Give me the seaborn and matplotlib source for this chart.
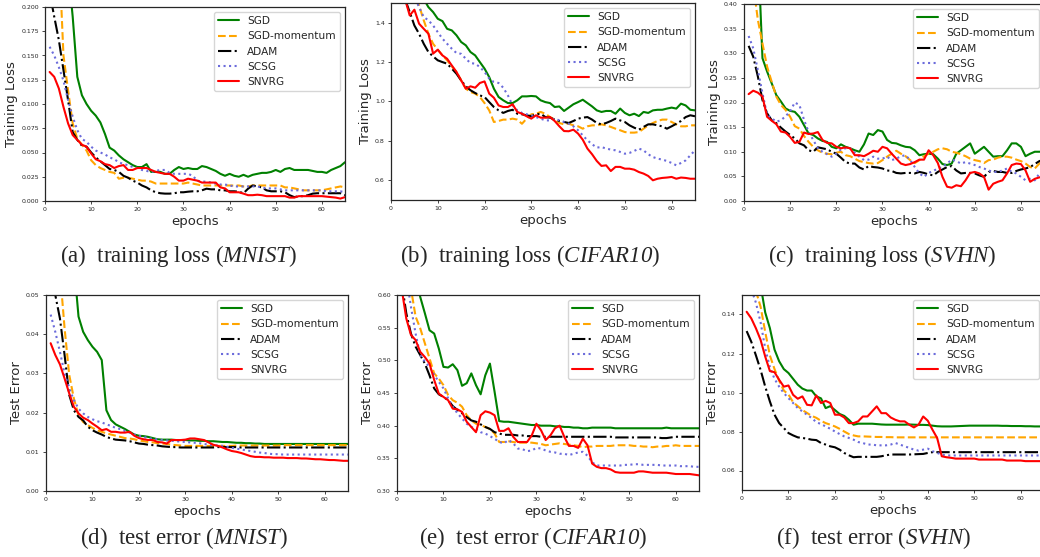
import numpy as np
import matplotlib
matplotlib.use("Agg")
import matplotlib.pyplot as plt
from matplotlib.ticker import MultipleLocator
import seaborn as sns

epochs = np.arange(1, 66)
methods = ["SGD", "SGD-momentum", "ADAM", "SCSG", "SNVRG"]

# (a) training loss MNIST
mnist_loss_sgd = [0.60, 0.45, 0.36, 0.29, 0.24, 0.19, 0.128, 0.109, 0.100, 0.093,
                  0.088, 0.081, 0.069, 0.055, 0.052, 0.047, 0.043, 0.040, 0.037, 0.035,
                  0.035, 0.038, 0.030, 0.030, 0.030, 0.028, 0.028, 0.032, 0.035, 0.033,
                  0.034, 0.033, 0.033, 0.036, 0.035, 0.033, 0.031, 0.028, 0.026, 0.028,
                  0.026, 0.025, 0.027, 0.025, 0.027, 0.028, 0.029, 0.029, 0.030, 0.032,
                  0.030, 0.033, 0.034, 0.032, 0.032, 0.032, 0.032, 0.031, 0.030, 0.030,
                  0.029, 0.032, 0.034, 0.036, 0.040]
mnist_loss_mom = [0.45, 0.33, 0.26, 0.15, 0.114, 0.080, 0.064, 0.058, 0.052, 0.042,
                  0.037, 0.034, 0.032, 0.030, 0.029, 0.023, 0.024, 0.024, 0.023, 0.022,
                  0.021, 0.021, 0.020, 0.018, 0.018, 0.018, 0.018, 0.018, 0.018, 0.018,
                  0.019, 0.018, 0.017, 0.016, 0.016, 0.016, 0.016, 0.016, 0.016, 0.016,
                  0.016, 0.016, 0.015, 0.015, 0.016, 0.016, 0.016, 0.016, 0.016, 0.016,
                  0.016, 0.014, 0.014, 0.013, 0.012, 0.011, 0.011, 0.011, 0.011, 0.011,
                  0.012, 0.013, 0.014, 0.015, 0.014]
mnist_loss_adam = [0.215, 0.19, 0.166, 0.135, 0.104, 0.071, 0.063, 0.057, 0.056, 0.050,
                   0.045, 0.041, 0.037, 0.033, 0.032, 0.030, 0.026, 0.024, 0.021, 0.019,
                   0.016, 0.014, 0.011, 0.009, 0.008, 0.0076, 0.0076, 0.008, 0.009, 0.009,
                   0.0096, 0.010, 0.010, 0.011, 0.0127, 0.012, 0.012, 0.011, 0.011, 0.010,
                   0.010, 0.0096, 0.008, 0.0127, 0.016, 0.015, 0.014, 0.011, 0.010, 0.010,
                   0.010, 0.009, 0.006, 0.004, 0.005, 0.005, 0.006, 0.0076, 0.008, 0.008,
                   0.008, 0.008, 0.008, 0.008, 0.006]
mnist_loss_scsg = [0.159, 0.150, 0.138, 0.124, 0.104, 0.087, 0.073, 0.064, 0.061, 0.056,
                   0.052, 0.050, 0.048, 0.045, 0.043, 0.040, 0.038, 0.037, 0.035, 0.034,
                   0.032, 0.031, 0.030, 0.031, 0.032, 0.032, 0.029, 0.028, 0.028, 0.028,
                   0.028, 0.026, 0.021, 0.020, 0.020, 0.019, 0.018, 0.017, 0.017, 0.016,
                   0.015, 0.015, 0.015, 0.015, 0.015, 0.015, 0.014, 0.013, 0.013, 0.013,
                   0.012, 0.011, 0.011, 0.011, 0.011, 0.011, 0.011, 0.011, 0.011, 0.011,
                   0.010, 0.010, 0.010, 0.010, 0.009]
mnist_loss_snvrg = [0.133, 0.128, 0.116, 0.097, 0.080, 0.068, 0.063, 0.058, 0.056, 0.049,
                    0.043, 0.041, 0.038, 0.037, 0.034, 0.036, 0.037, 0.032, 0.032, 0.034,
                    0.034, 0.034, 0.032, 0.030, 0.029, 0.028, 0.028, 0.025, 0.021, 0.021,
                    0.023, 0.022, 0.021, 0.019, 0.019, 0.019, 0.019, 0.014, 0.013, 0.009,
                    0.009, 0.009, 0.0076, 0.006, 0.006, 0.0065, 0.006, 0.005, 0.005, 0.005,
                    0.005, 0.005, 0.0035, 0.0035, 0.005, 0.005, 0.005, 0.005, 0.005, 0.005,
                    0.0045, 0.004, 0.0035, 0.0025, 0.004]

# (b) training loss CIFAR10
cifar_loss_sgd = [2.2, 2.0, 1.85, 1.75, 1.65, 1.58, 1.52, 1.479, 1.454, 1.42,
                  1.408, 1.369, 1.361, 1.336, 1.302, 1.285, 1.251, 1.234, 1.20, 1.167,
                  1.124, 1.065, 1.023, 1.006, 0.992, 0.992, 1.006, 1.026, 1.026, 1.028,
                  1.026, 1.006, 0.997, 0.992, 0.972, 0.975, 0.952, 0.969, 0.986, 0.997,
                  1.009, 0.992, 0.975, 0.955, 0.947, 0.952, 0.952, 0.938, 0.964, 0.942,
                  0.930, 0.938, 0.926, 0.947, 0.942, 0.955, 0.958, 0.958, 0.964, 0.969,
                  0.964, 0.989, 0.980, 0.958, 0.955]
cifar_loss_mom = [2.0, 1.85, 1.7, 1.6, 1.53, 1.488, 1.412, 1.344, 1.293, 1.263,
                  1.234, 1.209, 1.178, 1.15, 1.107, 1.065, 1.048, 1.04, 1.023, 0.992,
                  0.955, 0.896, 0.901, 0.908, 0.908, 0.913, 0.908, 0.887, 0.913, 0.935,
                  0.938, 0.947, 0.938, 0.921, 0.908, 0.891, 0.884, 0.887, 0.879, 0.874,
                  0.862, 0.874, 0.879, 0.879, 0.884, 0.879, 0.871, 0.862, 0.854, 0.845,
                  0.842, 0.842, 0.845, 0.862, 0.879, 0.891, 0.901, 0.908, 0.908, 0.896,
                  0.884, 0.874, 0.874, 0.879, 0.879]
cifar_loss_adam = [1.8, 1.65, 1.52, 1.454, 1.386, 1.344, 1.293, 1.251, 1.229, 1.209,
                   1.20, 1.192, 1.167, 1.141, 1.107, 1.077, 1.057, 1.043, 1.031, 1.023,
                   0.997, 0.972, 0.955, 0.942, 0.952, 0.958, 0.938, 0.935, 0.930, 0.925,
                   0.935, 0.938, 0.921, 0.918, 0.908, 0.901, 0.896, 0.891, 0.901, 0.913,
                   0.918, 0.921, 0.908, 0.891, 0.884, 0.891, 0.901, 0.913, 0.904, 0.896,
                   0.879, 0.867, 0.857, 0.871, 0.884, 0.884, 0.879, 0.874, 0.862, 0.874,
                   0.887, 0.901, 0.921, 0.930, 0.925]
cifar_loss_scsg = [2.1, 1.9, 1.75, 1.62, 1.53, 1.479, 1.429, 1.412, 1.386, 1.352,
                   1.319, 1.293, 1.268, 1.246, 1.242, 1.217, 1.195, 1.192, 1.175, 1.15,
                   1.116, 1.099, 1.094, 1.07, 1.031, 0.980, 0.955, 0.942, 0.935, 0.930,
                   0.921, 0.913, 0.904, 0.904, 0.913, 0.904, 0.896, 0.887, 0.874, 0.854,
                   0.828, 0.803, 0.783, 0.766, 0.769, 0.761, 0.756, 0.752, 0.744, 0.735,
                   0.739, 0.749, 0.761, 0.752, 0.732, 0.718, 0.710, 0.705, 0.698, 0.688,
                   0.676, 0.688, 0.701, 0.727, 0.752]
cifar_loss_snvrg = [1.9, 1.7, 1.52, 1.437, 1.466, 1.395, 1.369, 1.344, 1.243, 1.263,
                    1.234, 1.217, 1.183, 1.15, 1.107, 1.065, 1.077, 1.07, 1.094, 1.102,
                    1.04, 1.019, 0.980, 0.972, 0.972, 0.986, 0.947, 0.938, 0.925, 0.913,
                    0.930, 0.918, 0.918, 0.921, 0.901, 0.874, 0.850, 0.849, 0.857, 0.837,
                    0.806, 0.761, 0.732, 0.698, 0.673, 0.676, 0.647, 0.668, 0.668, 0.659,
                    0.659, 0.654, 0.642, 0.634, 0.622, 0.600, 0.608, 0.612, 0.614, 0.617,
                    0.608, 0.614, 0.612, 0.608, 0.608]

# (c) training loss SVHN
svhn_loss_sgd = [0.80, 0.65, 0.52, 0.29, 0.263, 0.239, 0.215, 0.202, 0.188, 0.183,
                 0.181, 0.171, 0.154, 0.137, 0.134, 0.127, 0.122, 0.120, 0.110, 0.107,
                 0.115, 0.110, 0.107, 0.103, 0.100, 0.115, 0.137, 0.134, 0.144, 0.141,
                 0.124, 0.118, 0.117, 0.113, 0.110, 0.109, 0.103, 0.093, 0.095, 0.096,
                 0.095, 0.086, 0.075, 0.073, 0.076, 0.096, 0.103, 0.110, 0.117, 0.096,
                 0.103, 0.110, 0.100, 0.090, 0.091, 0.091, 0.103, 0.117, 0.117, 0.110,
                 0.091, 0.096, 0.100, 0.100, 0.100]
svhn_loss_mom = [0.55, 0.44, 0.368, 0.320, 0.273, 0.242, 0.212, 0.195, 0.185, 0.171,
                 0.152, 0.147, 0.132, 0.120, 0.110, 0.103, 0.098, 0.096, 0.095, 0.098,
                 0.100, 0.093, 0.091, 0.086, 0.081, 0.079, 0.077, 0.076, 0.077, 0.083,
                 0.090, 0.096, 0.102, 0.096, 0.091, 0.083, 0.077, 0.083, 0.091, 0.096,
                 0.100, 0.105, 0.107, 0.105, 0.100, 0.098, 0.095, 0.091, 0.086, 0.083,
                 0.081, 0.077, 0.083, 0.084, 0.088, 0.090, 0.090, 0.088, 0.084, 0.081,
                 0.076, 0.069, 0.066, 0.076, 0.083]
svhn_loss_adam = [0.315, 0.293, 0.253, 0.205, 0.178, 0.164, 0.158, 0.149, 0.141, 0.134,
                  0.127, 0.117, 0.113, 0.103, 0.100, 0.109, 0.107, 0.105, 0.100, 0.096,
                  0.088, 0.079, 0.076, 0.076, 0.068, 0.064, 0.071, 0.069, 0.068, 0.066,
                  0.062, 0.061, 0.057, 0.056, 0.057, 0.057, 0.056, 0.059, 0.057, 0.054,
                  0.052, 0.059, 0.064, 0.069, 0.071, 0.062, 0.056, 0.057, 0.057, 0.056,
                  0.052, 0.049, 0.059, 0.061, 0.059, 0.059, 0.057, 0.057, 0.061, 0.064,
                  0.066, 0.069, 0.075, 0.081, 0.084]
svhn_loss_scsg = [0.335, 0.31, 0.266, 0.219, 0.175, 0.168, 0.161, 0.164, 0.172, 0.182,
                  0.200, 0.195, 0.165, 0.140, 0.124, 0.107, 0.100, 0.095, 0.090, 0.096,
                  0.105, 0.107, 0.107, 0.098, 0.090, 0.083, 0.084, 0.090, 0.086, 0.086,
                  0.090, 0.083, 0.086, 0.091, 0.093, 0.083, 0.069, 0.056, 0.049, 0.057,
                  0.061, 0.066, 0.069, 0.076, 0.084, 0.081, 0.076, 0.079, 0.076, 0.073,
                  0.069, 0.066, 0.062, 0.059, 0.059, 0.062, 0.066, 0.059, 0.056, 0.049,
                  0.042, 0.045, 0.042, 0.056, 0.059]
svhn_loss_snvrg = [0.217, 0.224, 0.220, 0.212, 0.171, 0.163, 0.156, 0.141, 0.139, 0.130,
                   0.118, 0.120, 0.139, 0.136, 0.137, 0.140, 0.124, 0.118, 0.117, 0.110,
                   0.107, 0.109, 0.107, 0.093, 0.093, 0.091, 0.096, 0.102, 0.100, 0.110,
                   0.107, 0.096, 0.086, 0.076, 0.073, 0.075, 0.079, 0.084, 0.084, 0.103,
                   0.093, 0.077, 0.049, 0.029, 0.027, 0.032, 0.030, 0.042, 0.057, 0.059,
                   0.056, 0.049, 0.023, 0.035, 0.039, 0.042, 0.056, 0.073, 0.076, 0.075,
                   0.062, 0.039, 0.045, 0.048, 0.049]

# (d) test error MNIST
mnist_err_sgd = [0.10, 0.09, 0.08, 0.072, 0.065, 0.058, 0.0445, 0.0406, 0.0385, 0.0368,
                 0.0355, 0.0334, 0.0206, 0.0181, 0.0170, 0.0164, 0.0158, 0.0151, 0.0144, 0.0141,
                 0.0140, 0.0138, 0.0135, 0.0132, 0.0131, 0.0131, 0.0131, 0.0130, 0.0130, 0.0130,
                 0.0129, 0.0129, 0.0128, 0.0128, 0.0127, 0.0127, 0.0126, 0.0125, 0.0125, 0.0124,
                 0.0123, 0.0123, 0.0122, 0.0122, 0.0121, 0.0121, 0.0120, 0.0120, 0.0120, 0.0120,
                 0.0120, 0.0120, 0.0120, 0.0120, 0.0120, 0.0120, 0.0120, 0.0120, 0.0120, 0.0120,
                 0.0120, 0.0120, 0.0120, 0.0120, 0.0120]
mnist_err_mom = [0.080, 0.065, 0.056, 0.0415, 0.0296, 0.0236, 0.0193, 0.0176, 0.0168, 0.0161,
                 0.0155, 0.0151, 0.0147, 0.0144, 0.0141, 0.0138, 0.0135, 0.0134, 0.0132, 0.0129,
                 0.0127, 0.0125, 0.0124, 0.0122, 0.0121, 0.0120, 0.0118, 0.0117, 0.0116, 0.0115,
                 0.0115, 0.0115, 0.0115, 0.0115, 0.0115, 0.0115, 0.0115, 0.0115, 0.0115, 0.0115,
                 0.0116, 0.0116, 0.0116, 0.0116, 0.0116, 0.0116, 0.0116, 0.0116, 0.0116, 0.0116,
                 0.0117, 0.0117, 0.0117, 0.0117, 0.0117, 0.0117, 0.0117, 0.0117, 0.0117, 0.0117,
                 0.0117, 0.0117, 0.0117, 0.0117, 0.0117]
mnist_err_adam = [0.058, 0.050, 0.044, 0.0347, 0.0245, 0.0206, 0.0189, 0.0180, 0.0164, 0.0155,
                  0.0149, 0.0144, 0.0138, 0.0134, 0.0131, 0.0130, 0.0129, 0.0127, 0.0124, 0.0121,
                  0.0120, 0.0118, 0.0117, 0.0116, 0.0114, 0.0113, 0.0112, 0.0112, 0.0111, 0.0111,
                  0.0111, 0.0111, 0.0111, 0.0111, 0.0111, 0.0111, 0.0112, 0.0112, 0.0112, 0.0112,
                  0.0112, 0.0111, 0.0111, 0.0111, 0.0111, 0.0111, 0.0111, 0.0111, 0.0111, 0.0111,
                  0.0111, 0.0111, 0.0111, 0.0111, 0.0111, 0.0111, 0.0111, 0.0111, 0.0111, 0.0111,
                  0.0111, 0.0111, 0.0111, 0.0111, 0.0111]
mnist_err_scsg = [0.045, 0.0406, 0.0355, 0.0300, 0.0262, 0.0232, 0.0210, 0.0198, 0.0189, 0.0183,
                  0.0178, 0.0175, 0.0170, 0.0166, 0.0161, 0.0158, 0.0153, 0.0149, 0.0144, 0.0141,
                  0.0138, 0.0135, 0.0133, 0.0132, 0.0130, 0.0129, 0.0128, 0.0127, 0.0126, 0.0125,
                  0.0124, 0.0123, 0.0122, 0.0120, 0.0118, 0.0117, 0.0116, 0.0115, 0.0113, 0.0110,
                  0.0108, 0.0106, 0.0104, 0.0102, 0.0100, 0.0098, 0.0097, 0.0095, 0.0094, 0.0094,
                  0.0093, 0.0093, 0.0093, 0.0093, 0.0093, 0.0093, 0.0093, 0.0093, 0.0093, 0.0093,
                  0.0093, 0.0093, 0.0093, 0.0093, 0.0093]
mnist_err_snvrg = [0.0377, 0.0347, 0.0323, 0.0287, 0.0249, 0.0215, 0.0198, 0.0187, 0.0181, 0.0172,
                   0.0164, 0.0155, 0.0158, 0.0151, 0.0151, 0.0149, 0.0149, 0.0151, 0.0141, 0.0135,
                   0.0132, 0.0130, 0.0130, 0.0125, 0.0124, 0.0121, 0.0130, 0.0130, 0.0130, 0.0131,
                   0.0134, 0.0134, 0.0132, 0.0130, 0.0124, 0.0118, 0.0115, 0.0111, 0.0106, 0.0102,
                   0.0100, 0.0097, 0.0093, 0.0089, 0.0087, 0.0087, 0.0086, 0.0086, 0.0085, 0.0085,
                   0.0085, 0.0084, 0.0084, 0.0084, 0.0083, 0.0083, 0.0082, 0.0081, 0.0081, 0.0080,
                   0.0079, 0.0079, 0.0078, 0.0077, 0.0077]

# (e) test error CIFAR10
cifar_err_sgd = [0.85, 0.75, 0.68, 0.63, 0.597, 0.572, 0.546, 0.541, 0.518, 0.490,
                 0.489, 0.494, 0.485, 0.461, 0.465, 0.480, 0.462, 0.448, 0.477, 0.495,
                 0.452, 0.407, 0.406, 0.406, 0.405, 0.404, 0.403, 0.402, 0.401, 0.401,
                 0.400, 0.400, 0.400, 0.399, 0.399, 0.398, 0.398, 0.397, 0.397, 0.396,
                 0.396, 0.397, 0.397, 0.397, 0.397, 0.397, 0.396, 0.396, 0.396, 0.396,
                 0.396, 0.396, 0.396, 0.396, 0.396, 0.396, 0.396, 0.397, 0.396, 0.396,
                 0.396, 0.396, 0.396, 0.396, 0.396]
cifar_err_mom = [0.75, 0.67, 0.61, 0.567, 0.549, 0.526, 0.503, 0.480, 0.472, 0.462,
                 0.447, 0.439, 0.435, 0.429, 0.416, 0.408, 0.403, 0.401, 0.398, 0.395,
                 0.388, 0.375, 0.375, 0.376, 0.375, 0.374, 0.374, 0.374, 0.374, 0.373,
                 0.372, 0.370, 0.371, 0.372, 0.373, 0.372, 0.371, 0.370, 0.369, 0.367,
                 0.368, 0.368, 0.369, 0.369, 0.369, 0.369, 0.370, 0.370, 0.370, 0.370,
                 0.369, 0.369, 0.368, 0.368, 0.367, 0.368, 0.368, 0.369, 0.369, 0.370,
                 0.369, 0.369, 0.369, 0.369, 0.369]
cifar_err_adam = [0.62, 0.572, 0.541, 0.521, 0.508, 0.495, 0.477, 0.457, 0.448, 0.444,
                  0.439, 0.430, 0.424, 0.419, 0.413, 0.408, 0.406, 0.402, 0.398, 0.395,
                  0.390, 0.388, 0.386, 0.386, 0.386, 0.385, 0.385, 0.384, 0.384, 0.384,
                  0.383, 0.383, 0.383, 0.383, 0.383, 0.383, 0.383, 0.383, 0.383, 0.383,
                  0.383, 0.383, 0.383, 0.383, 0.383, 0.383, 0.382, 0.382, 0.382, 0.382,
                  0.382, 0.382, 0.382, 0.382, 0.382, 0.382, 0.381, 0.381, 0.382, 0.383,
                  0.383, 0.383, 0.383, 0.383, 0.383]
cifar_err_scsg = [0.70, 0.63, 0.582, 0.541, 0.508, 0.498, 0.490, 0.478, 0.467, 0.457,
                  0.442, 0.429, 0.419, 0.411, 0.403, 0.398, 0.395, 0.390, 0.388, 0.384,
                  0.380, 0.375, 0.373, 0.378, 0.373, 0.365, 0.364, 0.361, 0.362, 0.366,
                  0.365, 0.362, 0.360, 0.359, 0.357, 0.357, 0.355, 0.357, 0.359, 0.360,
                  0.354, 0.344, 0.339, 0.339, 0.339, 0.339, 0.339, 0.339, 0.340, 0.340,
                  0.341, 0.341, 0.340, 0.340, 0.340, 0.340, 0.339, 0.339, 0.339, 0.339,
                  0.338, 0.338, 0.338, 0.337, 0.337]
cifar_err_snvrg = [0.61, 0.564, 0.539, 0.531, 0.513, 0.505, 0.495, 0.470, 0.449, 0.444,
                   0.439, 0.426, 0.425, 0.421, 0.406, 0.398, 0.390, 0.416, 0.422, 0.420,
                   0.416, 0.392, 0.392, 0.396, 0.383, 0.375, 0.375, 0.375, 0.385, 0.403,
                   0.393, 0.378, 0.385, 0.396, 0.400, 0.383, 0.369, 0.369, 0.366, 0.380,
                   0.370, 0.342, 0.337, 0.335, 0.335, 0.333, 0.329, 0.328, 0.328, 0.328,
                   0.328, 0.330, 0.330, 0.329, 0.328, 0.328, 0.328, 0.328, 0.327, 0.326,
                   0.326, 0.326, 0.326, 0.325, 0.324]

# (f) test error SVHN
svhn_err_sgd = [0.20, 0.18, 0.165, 0.155, 0.141, 0.133, 0.122, 0.116, 0.112, 0.110,
                0.107, 0.104, 0.102, 0.101, 0.101, 0.098, 0.097, 0.092, 0.093, 0.091,
                0.089, 0.088, 0.086, 0.0835, 0.084, 0.084, 0.084, 0.084, 0.0838, 0.0836,
                0.0835, 0.0835, 0.0835, 0.0835, 0.0835, 0.0836, 0.0835, 0.0834, 0.0834, 0.0833,
                0.0830, 0.0827, 0.0826, 0.0826, 0.0826, 0.0827, 0.0828, 0.0829, 0.0830, 0.0830,
                0.0830, 0.0830, 0.0830, 0.0830, 0.0830, 0.0829, 0.0829, 0.0828, 0.0828, 0.0828,
                0.0827, 0.0827, 0.0826, 0.0826, 0.0826]
svhn_err_mom = [0.18, 0.165, 0.152, 0.144, 0.131, 0.119, 0.112, 0.106, 0.101, 0.099,
                0.095, 0.093, 0.091, 0.0895, 0.088, 0.087, 0.0855, 0.0843, 0.0835, 0.0826,
                0.0814, 0.0800, 0.0787, 0.0780, 0.0775, 0.0775, 0.0774, 0.0773, 0.0772, 0.0772,
                0.0771, 0.0771, 0.0770, 0.0770, 0.0770, 0.0770, 0.0770, 0.0770, 0.0770, 0.0770,
                0.0770, 0.0770, 0.0770, 0.0770, 0.0770, 0.0770, 0.0770, 0.0770, 0.0770, 0.0770,
                0.0770, 0.0770, 0.0770, 0.0770, 0.0770, 0.0770, 0.0770, 0.0770, 0.0770, 0.0770,
                0.0770, 0.0770, 0.0770, 0.0770, 0.0770]
svhn_err_adam = [0.1315, 0.126, 0.119, 0.1116, 0.103, 0.0954, 0.0886, 0.0843, 0.0818, 0.0792,
                 0.0780, 0.0770, 0.0767, 0.0763, 0.0758, 0.0756, 0.0741, 0.0733, 0.0724, 0.0719,
                 0.0707, 0.0690, 0.0678, 0.0668, 0.0670, 0.0670, 0.0670, 0.0670, 0.0670, 0.0673,
                 0.0678, 0.0682, 0.0682, 0.0682, 0.0682, 0.0682, 0.0683, 0.0684, 0.0685, 0.0690,
                 0.0694, 0.0694, 0.0694, 0.0694, 0.0694, 0.0694, 0.0694, 0.0694, 0.0694, 0.0694,
                 0.0694, 0.0694, 0.0694, 0.0694, 0.0694, 0.0694, 0.0694, 0.0694, 0.0694, 0.0694,
                 0.0694, 0.0694, 0.0694, 0.0694, 0.0694]
svhn_err_scsg = [0.175, 0.153, 0.146, 0.136, 0.1226, 0.113, 0.107, 0.103, 0.0997, 0.0971,
                 0.0946, 0.0920, 0.0903, 0.0886, 0.0869, 0.0848, 0.0838, 0.0826, 0.0814, 0.0800,
                 0.0787, 0.0775, 0.0767, 0.0758, 0.0746, 0.0741, 0.0733, 0.0733, 0.0729, 0.0729,
                 0.0729, 0.0733, 0.0741, 0.0733, 0.0724, 0.0716, 0.0707, 0.0702, 0.0707, 0.0712,
                 0.0699, 0.0690, 0.0682, 0.0677, 0.0677, 0.0677, 0.0677, 0.0677, 0.0677, 0.0677,
                 0.0677, 0.0677, 0.0677, 0.0677, 0.0677, 0.0677, 0.0677, 0.0677, 0.0677, 0.0677,
                 0.0677, 0.0677, 0.0677, 0.0677, 0.0677]
svhn_err_snvrg = [0.1414, 0.138, 0.1329, 0.127, 0.1184, 0.111, 0.1104, 0.1065, 0.103, 0.1036,
                  0.0988, 0.0968, 0.0980, 0.0937, 0.0934, 0.0985, 0.0946, 0.0957, 0.0946, 0.0886,
                  0.0886, 0.0872, 0.0843, 0.0843, 0.0852, 0.0877, 0.0877, 0.0903, 0.0929, 0.0894,
                  0.0894, 0.0872, 0.0860, 0.0852, 0.0852, 0.0835, 0.0821, 0.0835, 0.0877, 0.0855,
                  0.0809, 0.0767, 0.0673, 0.0668, 0.0665, 0.0661, 0.0661, 0.0661, 0.0661, 0.0661,
                  0.0656, 0.0656, 0.0656, 0.0656, 0.0656, 0.0656, 0.0651, 0.0651, 0.0651, 0.0651,
                  0.0648, 0.0648, 0.0648, 0.0648, 0.0648]

sns.set_style("ticks")
plt.rcParams["font.family"] = ["DejaVu Sans"]
plt.rcParams["mathtext.fontset"] = "custom"
plt.rcParams["mathtext.rm"] = "Liberation Serif"
# italic dataset names (digits included) go through the bf slot
plt.rcParams["mathtext.bf"] = "Liberation Serif:italic"

colors = ["green", "orange", "black", "#6b6bdb", "red"]
styles = ["-", "--", "-.", ":", "-"]

panels = [
    # series, ylabel, ylim, ystep, axes rect (px: left, top, right, bottom), caption, caption center
    ([mnist_loss_sgd, mnist_loss_mom, mnist_loss_adam, mnist_loss_scsg, mnist_loss_snvrg],
     "Training Loss", (0, 0.2), 0.025, (45, 7, 345, 201),
     r"(a)  training loss ($\mathbf{MNIST}$)", (179, 256)),
    ([cifar_loss_sgd, cifar_loss_mom, cifar_loss_adam, cifar_loss_scsg, cifar_loss_snvrg],
     "Training Loss", (0.5, 1.5), 0.2, (391, 3, 695, 200),
     r"(b)  training loss ($\mathbf{CIFAR10}$)", (530, 256)),
    ([svhn_loss_sgd, svhn_loss_mom, svhn_loss_adam, svhn_loss_scsg, svhn_loss_snvrg],
     "Training Loss", (0, 0.4), 0.05, (744, 4, 1044, 201),
     r"(c)  training loss ($\mathbf{SVHN}$)", (882, 256)),
    ([mnist_err_sgd, mnist_err_mom, mnist_err_adam, mnist_err_scsg, mnist_err_snvrg],
     "Test Error", (0, 0.05), 0.01, (46, 295, 348, 491),
     r"(d)  test error ($\mathbf{MNIST}$)", (184, 538)),
    ([cifar_err_sgd, cifar_err_mom, cifar_err_adam, cifar_err_scsg, cifar_err_snvrg],
     "Test Error", (0.3, 0.6), 0.05, (397, 295, 699, 491),
     r"(e)  test error ($\mathbf{CIFAR10}$)", (533, 538)),
    ([svhn_err_sgd, svhn_err_mom, svhn_err_adam, svhn_err_scsg, svhn_err_snvrg],
     "Test Error", (0.05, 0.15), 0.02, (742, 295, 1044, 490),
     r"(f)  test error ($\mathbf{SVHN}$)", (874, 538)),
]

W, H = 1040, 557
fig = plt.figure(figsize=(W / 100, H / 100), dpi=100)

for series, ylabel, ylim, ystep, rect, caption, cpos in panels:
    l, t, r, b = rect
    ax = fig.add_axes([l / W, 1 - b / H, (r - l) / W, (b - t) / H])
    for vals, name, c, ls in zip(series, methods, colors, styles):
        sns.lineplot(x=epochs, y=vals, ax=ax, color=c, linestyle=ls,
                     linewidth=1.5, label=name, errorbar=None)
    ax.set_xlim(0, 65)
    ax.set_ylim(*ylim)
    ax.xaxis.set_major_locator(MultipleLocator(10))
    ax.yaxis.set_major_locator(MultipleLocator(ystep))
    ax.tick_params(labelsize=4.5, length=2.5, width=0.6, pad=2)
    for sp in ax.spines.values():
        sp.set_linewidth(0.9)
    ax.set_xlabel("epochs", fontsize=9.5, labelpad=2)
    ax.set_ylabel(ylabel, fontsize=9.5, labelpad=2)
    ax.legend(loc="upper right", fontsize=7.6, frameon=True, fancybox=True,
              framealpha=0.8, edgecolor="0.8", borderaxespad=0.45)
    fig.text(cpos[0] / W, 1 - cpos[1] / H, caption, ha="center", va="center",
             fontsize=16.5, family="Liberation Serif")

fig.savefig("out.png", dpi=100)
